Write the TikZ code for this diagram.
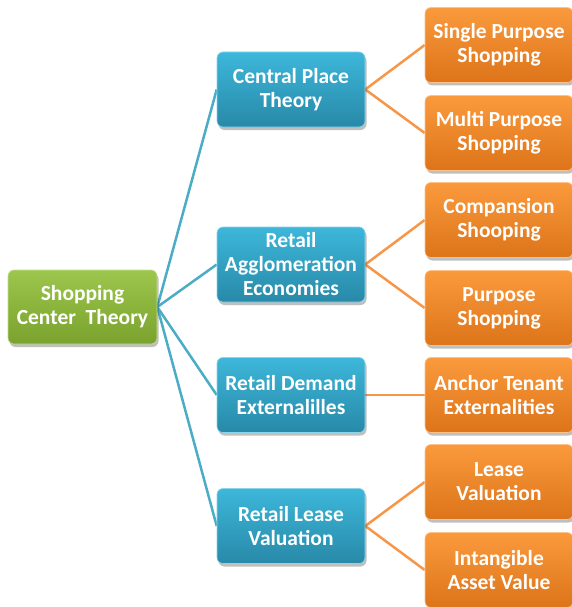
\documentclass[tikz,border=0pt]{standalone}
\usepackage{fontspec}
\setmainfont{Carlito}
\usetikzlibrary{shadows,backgrounds}

\definecolor{grnTop}{HTML}{9CC64C}
\definecolor{grnBot}{HTML}{7AA22E}
\definecolor{bluTop}{HTML}{3DB7DA}
\definecolor{bluBot}{HTML}{2889A8}
\definecolor{orgTop}{HTML}{FA9A3C}
\definecolor{orgBot}{HTML}{DD741A}
\definecolor{bluLine}{HTML}{4BACC6}
\definecolor{orgLine}{HTML}{F79646}

\tikzset{
  box/.style={rounded corners=6pt, minimum width=148pt, minimum height=75pt,
    inner sep=1pt, align=center, text=white,
    font=\bfseries\fontsize{21.5}{24}\selectfont,
    drop shadow={shadow xshift=1.5pt, shadow yshift=-3pt, opacity=0.25, fill=black}},
  rootbox/.style={box, top color=grnTop, bottom color=grnBot, draw=grnTop!60!white, line width=0.6pt},
  midbox/.style={box, top color=bluTop, bottom color=bluBot, draw=bluTop!60!white, line width=0.6pt},
  leafbox/.style={box, top color=orgTop, bottom color=orgBot, draw=orgTop!60!white, line width=0.6pt},
  blueline/.style={draw=bluLine, line width=2.5pt},
  orangeline/.style={draw=orgLine, line width=2.5pt},
}

\begin{document}
\begin{tikzpicture}[x=1pt,y=-1pt]
  \useasboundingbox (0,0) rectangle (572,607);

  % root
  \node[rootbox, minimum width=149pt, minimum height=74pt] (root) at (82.5,307) {Shopping\\Center~ Theory};

  % second level
  \node[midbox] (cpt) at (291,89.5)  {Central Place\\Theory};
  \node[midbox] (rae) at (291,264.5) {Retail\\Agglomeration\\Economies};
  \node[midbox] (rde) at (291,395)   {Retail Demand\\Externalilles};
  \node[midbox] (rlv) at (291,526)   {Retail Lease\\Valuation};

  % third level
  \node[leafbox] (sps) at (499,45)   {Single Purpose\\Shopping};
  \node[leafbox] (mps) at (499,133)  {Multi Purpose\\Shopping};
  \node[leafbox] (cs)  at (499,220)  {Compansion\\Shooping};
  \node[leafbox] (ps)  at (499,308)  {Purpose\\Shopping};
  \node[leafbox] (ate) at (499,395)  {Anchor Tenant\\Externalities};
  \node[leafbox] (lv)  at (499,482)  {Lease\\Valuation};
  \node[leafbox] (iav) at (499,570)  {Intangible\\Asset Value};

  \begin{scope}[on background layer]
    \foreach \m in {cpt,rae,rde,rlv}
      \draw[blueline] (root.east) -- (\m.west);
    \draw[orangeline] (cpt.east) -- (sps.west);
    \draw[orangeline] (cpt.east) -- (mps.west);
    \draw[orangeline] (rae.east) -- (cs.west);
    \draw[orangeline] (rae.east) -- (ps.west);
    \draw[orangeline] (rde.east) -- (ate.west);
    \draw[orangeline] (rlv.east) -- (lv.west);
    \draw[orangeline] (rlv.east) -- (iav.west);
  \end{scope}
\end{tikzpicture}
\end{document}
